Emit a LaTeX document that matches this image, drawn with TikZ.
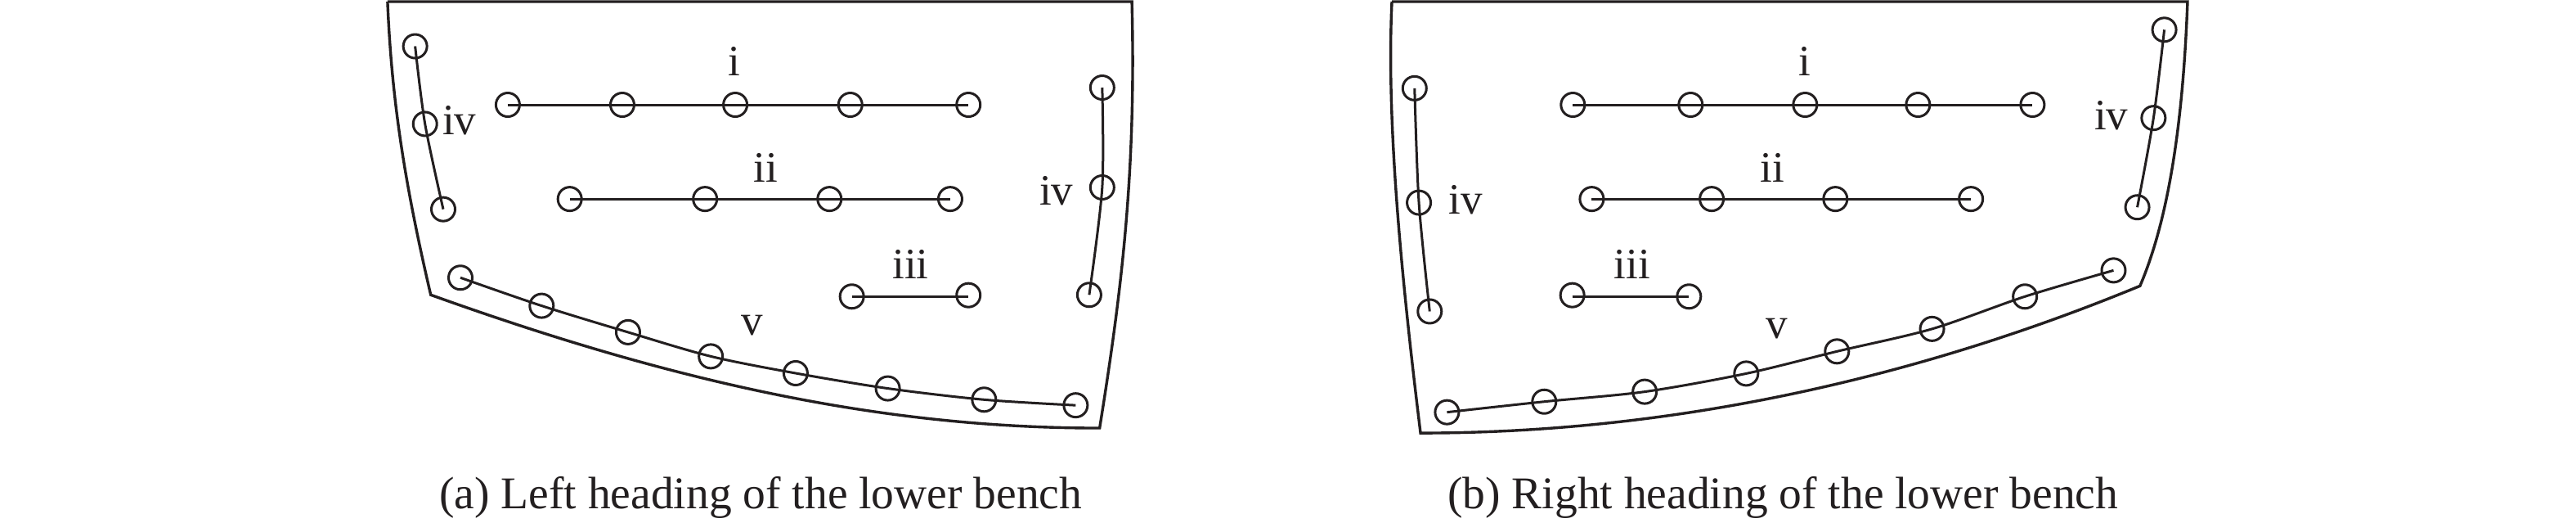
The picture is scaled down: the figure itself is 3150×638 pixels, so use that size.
\documentclass[tikz,border=0pt]{standalone}
\usepackage{fontspec}
\setmainfont{Liberation Serif}
\definecolor{ink}{HTML}{231F20}
\tikzset{
  hole/.style={draw=ink,circle,line width=3pt,minimum size=29pt,inner sep=0pt},
  wire/.style={draw=ink,line width=3pt},
  rim/.style={draw=ink,line width=3.4pt,line join=miter},
  tag/.style={text=ink,font=\fontsize{53}{53}\selectfont,inner sep=0pt},
  caption/.style={text=ink,font=\fontsize{55.5}{56}\selectfont,inner sep=0pt},
  panela/.style={x=0.6365pt,y=-0.4039pt,shift={(440.8pt,-2pt)}},
  panelb/.style={x=0.6605pt,y=-0.4039pt,shift={(1662.4pt,-2pt)}}
}
\begin{document}
\begin{tikzpicture}
\useasboundingbox[fill=white] (0pt,0pt) rectangle (3150pt,-638pt);
% ---------- panel a
\begin{scope}[panela]
\draw[rim] (52,0) -- (1482,0) .. controls (1490,500) and (1465,850) .. (1420,1290)
  .. controls (1000,1290) and (600,1150) .. (135,887)
  .. controls (85,550) and (60,300) .. (52,0);
\node[hole] (al1) at (105,135) {};
\node[hole] (al2) at (124,370) {};
\node[hole] (al3) at (159,628) {};
\draw[wire] plot[smooth,tension=.5] coordinates {(al1.center) (al2.center) (al3.center)};
\node[hole] (ai1) at (283,312) {};
\node[hole] (ai2) at (503,312) {};
\node[hole] (ai3) at (720,312) {};
\node[hole] (ai4) at (941,312) {};
\node[hole] (ai5) at (1168,312) {};
\draw[wire] (ai1.center) -- (ai2.center) -- (ai3.center) -- (ai4.center) -- (ai5.center);
\node[hole] (aii1) at (402,597) {};
\node[hole] (aii2) at (662,597) {};
\node[hole] (aii3) at (901,597) {};
\node[hole] (aii4) at (1133,597) {};
\draw[wire] (aii1.center) -- (aii2.center) -- (aii3.center) -- (aii4.center);
\node[hole] (aiii1) at (944,892) {};
\node[hole] (aiii2) at (1168,888) {};
\draw[wire] (aiii1.center) -- (aiii2.center |- aiii1.center);
\node[hole] (ar1) at (1425,260) {};
\node[hole] (ar2) at (1425,562) {};
\node[hole] (ar3) at (1400,887) {};
\draw[wire] plot[smooth,tension=.5] coordinates {(ar1.center) (ar2.center) (ar3.center)};
\node[hole] (av1) at (192,835) {};
\node[hole] (av2) at (348,920) {};
\node[hole] (av3) at (514,1000) {};
\node[hole] (av4) at (673,1073) {};
\node[hole] (av5) at (836,1124) {};
\node[hole] (av6) at (1013,1170) {};
\node[hole] (av7) at (1198,1204) {};
\node[hole] (av8) at (1374,1221) {};
\draw[wire] plot[smooth,tension=.5] coordinates {(av1.center) (av2.center) (av3.center) (av4.center) (av5.center) (av6.center) (av7.center) (av8.center)};
\node[tag] (ta1) at (718,180) {i};
\node[tag] (ta2) at (779,502) {ii};
\node[tag] (ta3) at (1057,795) {iii};
\node[tag] (ta4) at (190,360) {iv};
\node[tag] (ta5) at (1337,572) {iv};
\node[tag] (ta6) at (752,980) {v};
\node[caption] (ca) at (769,1500) {(a) Left heading of the lower bench};
\end{scope}
% ---------- panel b
\begin{scope}[panelb]
\draw[rim] (60,0) -- (1533,0) .. controls (1525,350) and (1500,650) .. (1445,860)
  .. controls (1000,1160) and (550,1305) .. (113,1305)
  .. controls (75,800) and (50,350) .. (60,0);
\node[hole] (bl1) at (102,262) {};
\node[hole] (bl2) at (110,608) {};
\node[hole] (bl3) at (130,937) {};
\draw[wire] plot[smooth,tension=.5] coordinates {(bl1.center) (bl2.center) (bl3.center)};
\node[hole] (bi1) at (395,312) {};
\node[hole] (bi2) at (613,312) {};
\node[hole] (bi3) at (825,312) {};
\node[hole] (bi4) at (1034,312) {};
\node[hole] (bi5) at (1246,312) {};
\draw[wire] (bi1.center) -- (bi2.center) -- (bi3.center) -- (bi4.center) -- (bi5.center);
\node[hole] (bii1) at (430,597) {};
\node[hole] (bii2) at (652,597) {};
\node[hole] (bii3) at (881,597) {};
\node[hole] (bii4) at (1132,597) {};
\draw[wire] (bii1.center) -- (bii2.center) -- (bii3.center) -- (bii4.center);
\node[hole] (biii1) at (394,888) {};
\node[hole] (biii2) at (610,892) {};
\draw[wire] (biii1.center |- biii2.center) -- (biii2.center);
\node[hole] (br1) at (1490,85) {};
\node[hole] (br2) at (1470,352) {};
\node[hole] (br3) at (1440,622) {};
\draw[wire] plot[smooth,tension=.5] coordinates {(br1.center) (br2.center) (br3.center)};
\node[hole] (bv1) at (162,1242) {};
\node[hole] (bv2) at (342,1210) {};
\node[hole] (bv3) at (528,1180) {};
\node[hole] (bv4) at (716,1125) {};
\node[hole] (bv5) at (884,1058) {};
\node[hole] (bv6) at (1060,990) {};
\node[hole] (bv7) at (1232,892) {};
\node[hole] (bv8) at (1396,813) {};
\draw[wire] plot[smooth,tension=.5] coordinates {(bv1.center) (bv2.center) (bv3.center) (bv4.center) (bv5.center) (bv6.center) (bv7.center) (bv8.center)};
\node[tag] (tb1) at (825,180) {i};
\node[tag] (tb2) at (765,502) {ii};
\node[tag] (tb3) at (505,795) {iii};
\node[tag] (tb4) at (197,600) {iv};
\node[tag] (tb5) at (1392,345) {iv};
\node[tag] (tb6) at (772,990) {v};
\node[caption] (cb) at (784,1500) {(b) Right heading of the lower bench};
\end{scope}
\end{tikzpicture}
\end{document}
